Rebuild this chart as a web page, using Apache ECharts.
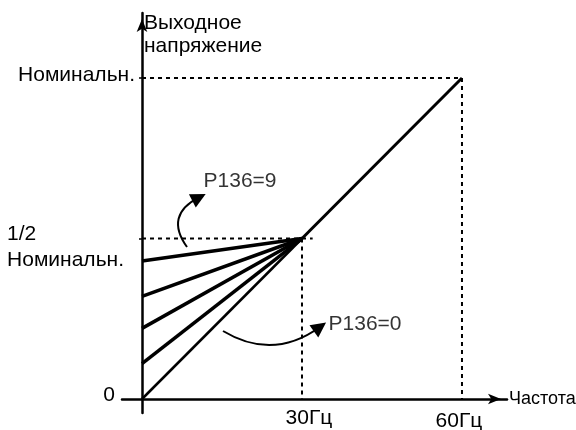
<!DOCTYPE html>
<html>
<head>
<meta charset="utf-8">
<script src="https://cdn.jsdelivr.net/npm/echarts@6/dist/echarts.min.js"></script>
<style>
html,body{margin:0;padding:0;background:#fff;}
#c{width:576px;height:430px;}
</style>
</head>
<body>
<div id="c"></div>
<script>
// ---- data ----
const xTickValues = [30, 60];
const xTickLabels = ['30Гц', '60Гц'];
const yTickValues = [0, 0.5, 1];
const yTickLabels = ['0', '1/2\nНоминальн.', 'Номинальн.'];
const xAxisName = 'Частота';
const yAxisName = 'Выходное\nнапряжение';
const ratedLow = [[0, 0], [30, 0.5]];
const ratedHigh = [[30, 0.5], [60, 1]];
const fanStarts = [0.11, 0.22, 0.32, 0.43];
const fanEnd = [30, 0.5];
const guideNominal = [[0, 1], [60, 1], [60, 0]];
const guideHalf = [[0, 0.5], [32, 0.5]];
const guide30 = [[30, 0.5], [30, 0]];
const arrowUp = [[8.44, 0.4735], [10.69, 0.628]];
const arrowDown = [[15.19, 0.2118], [33.37, 0.2243]];
const noteNames = ['P136=9', 'P136=0'];
const notePoints = [[11.44, 0.6776], [34.88, 0.2336]];

// ---- chart ----
const FONT = '"Liberation Sans", Arial, sans-serif';
const BLACK = '#000';
const FS = 21;
const tok = (extra) => Object.assign({fontSize: FS, fontFamily: FONT, color: BLACK}, extra);

const chart = echarts.init(document.getElementById('c'), null, {renderer: 'canvas'});

const lineSeries = (data, width, dashed, z) => ({
  type: 'line',
  data: data,
  symbol: 'none',
  silent: true,
  animation: false,
  z: z,
  lineStyle: {color: BLACK, width: width, type: dashed ? [4, 4] : 'solid'}
});

const series = [];
series.push(lineSeries(guideNominal, 2, true, 1));
series.push(lineSeries(guideHalf, 2, true, 1));
series.push(lineSeries(guide30, 2, true, 1));
fanStarts.forEach(v => series.push(lineSeries([[0, v], fanEnd], 3.5, false, 3)));
series.push(lineSeries(ratedLow, 2.5, false, 3));
series.push(lineSeries(ratedHigh, 3, false, 3));

[[arrowUp, 0.58], [arrowDown, -0.33]].forEach(([coords, c]) => {
  series.push({
    type: 'lines',
    coordinateSystem: 'cartesian2d',
    polyline: false,
    silent: true,
    animation: false,
    symbol: ['none', 'triangle'],
    symbolSize: 15,
    lineStyle: {color: BLACK, width: 2, curveness: c, opacity: 1},
    data: [{coords: coords}],
    z: 4
  });
});

series.push({
  type: 'scatter',
  silent: true,
  animation: false,
  symbolSize: 1,
  itemStyle: {color: 'rgba(0,0,0,0)'},
  data: notePoints.map((p, i) => ({name: noteNames[i], value: p})),
  label: {
    show: true, formatter: '{b}', position: 'right', distance: 0,
    fontSize: FS, fontFamily: FONT, color: BLACK
  },
  z: 5
});

const option = {
  animation: false,
  backgroundColor: '#fff',
  textStyle: {fontFamily: FONT, color: BLACK},
  grid: {left: 122, right: 69, top: 13, bottom: 17, containLabel: false, outerBoundsMode: 'none'},
  xAxis: {
    type: 'value',
    min: -3.75,
    max: 68.44,
    splitLine: {show: false},
    axisTick: {show: false},
    axisLine: {
      show: true, onZero: true,
      symbol: ['none', 'arrow'], symbolSize: [8, 13], symbolOffset: [0, -6],
      lineStyle: {color: BLACK, width: 2.5}
    },
    axisLabel: {
      show: true,
      customValues: xTickValues,
      margin: -5,
      formatter: function (v) {
        const i = xTickValues.indexOf(v);
        return '{t' + i + '|' + xTickLabels[i] + '}';
      },
      rich: {
        t0: tok({padding: [0, 0, 0, 14]}),
        t1: tok({padding: [3, 6, 0, 0]})
      }
    },
    name: xAxisName,
    nameLocation: 'end',
    nameGap: 2,
    nameTextStyle: {fontSize: 18, fontFamily: FONT, color: BLACK, align: 'left', verticalAlign: 'middle', padding: [2, 0, 0, 0]}
  },
  yAxis: {
    type: 'value',
    min: -0.0436,
    max: 1.2025,
    splitLine: {show: false},
    axisTick: {show: true, customValues: [0.5, 1], length: 3, lineStyle: {color: BLACK, width: 1.5}},
    axisLine: {
      show: true, onZero: true,
      symbol: ['none', 'arrow'], symbolSize: [8, 13], symbolOffset: [0, -6],
      lineStyle: {color: BLACK, width: 2.5}
    },
    axisLabel: {
      show: true,
      customValues: yTickValues,
      margin: -13,
      padding: [17, 0, 0, 0],
      formatter: function (v) {
        const i = yTickValues.indexOf(v);
        const lines = yTickLabels[i].split('\n');
        if (i === 0) return '{z|' + lines[0] + '}';
        if (i === 1) return '{a|' + lines[0] + '}\n{b|' + lines[1] + '}';
        return '{n|' + lines[0] + '}';
      },
      rich: {
        z: tok({padding: [0, 20, 24, 0]}),
        a: tok({align: 'left', lineHeight: 26}),
        b: tok({padding: [0, 11, 0, 0], lineHeight: 26}),
        n: tok({padding: [0, 0, 23, 0]})
      }
    },
    name: yAxisName,
    nameLocation: 'end',
    nameGap: 1,
    nameTextStyle: {fontSize: FS, fontFamily: FONT, color: BLACK, align: 'left', verticalAlign: 'top', lineHeight: 23, padding: [0, 0, 0, 2]}
  },
  series: series
};

chart.setOption(option);
</script>
</body>
</html>
